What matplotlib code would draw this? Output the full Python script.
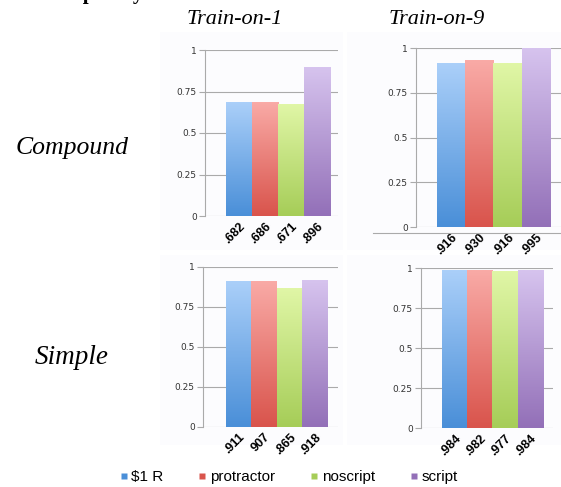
import numpy as np
import matplotlib.pyplot as plt
from matplotlib.lines import Line2D
from matplotlib.colors import LinearSegmentedColormap
from matplotlib.transforms import ScaledTranslation

# datos
metodos = ['$1 R', 'protractor', 'noscript', 'script']
compuesto_1 = [0.682, 0.686, 0.671, 0.896]
compuesto_9 = [0.916, 0.930, 0.916, 0.995]
simple_1 = [0.911, 0.907, 0.865, 0.918]
simple_9 = [0.984, 0.982, 0.977, 0.984]
etiquetas_c1 = ['.682', '.686', '.671', '.896']
etiquetas_c9 = ['.916', '.930', '.916', '.995']
etiquetas_s1 = ['.911', '907', '.865', '.918']
etiquetas_s9 = ['.984', '.982', '.977', '.984']

# colores (arriba claro, abajo oscuro)
claros = ['#aacff9', '#f9aaa6', '#e0f6a6', '#d6c3ee']
oscuros = ['#4a8fd8', '#d9544c', '#a6cd58', '#9370b8']

W, H = 561, 487
fig = plt.figure(figsize=(W / 100, H / 100), dpi=100)

def caja(izq, der, arriba, abajo):
    return [izq / W, 1 - abajo / H, (der - izq) / W, (abajo - arriba) / H]

# fondos tenues de las imagenes pegadas
for (x0, y0, x1, y1) in [(160, 32, 343, 250), (347, 32, 561, 250),
                         (160, 255, 343, 445), (347, 255, 561, 445)]:
    fig.patches.append(plt.Rectangle((x0 / W, 1 - y1 / H), (x1 - x0) / W, (y1 - y0) / H,
                                     transform=fig.transFigure, facecolor='#fcfcfe',
                                     edgecolor='none', zorder=-5))

def grafica(pos, valores, etiquetas, xlim):
    ax = fig.add_axes(pos)
    ax.set_facecolor('none')
    for i, v in enumerate(valores):
        cmap = LinearSegmentedColormap.from_list('g', [oscuros[i], claros[i]])
        grad = np.linspace(0, 1, 100).reshape(-1, 1)
        ax.imshow(grad, cmap=cmap, origin='lower', aspect='auto',
                  extent=(i - 0.5, i + 0.5, 0, v), zorder=3)
    ax.set_xlim(*xlim)
    ax.set_ylim(0, 1)
    ax.set_yticks([0, 0.25, 0.5, 0.75, 1])
    ax.set_yticklabels(['0', '0.25', '0.5', '0.75', '1'], fontsize=6.5, color='#333333')
    ax.set_xticks(range(4))
    ax.set_xticklabels(etiquetas, rotation=45, ha='right', va='top', rotation_mode='anchor',
                       fontsize=9, fontweight='bold', fontfamily='Liberation Sans')
    # corro las etiquetas un poco a la derecha como en el original
    desplaza = ScaledTranslation(7 / 72, 0, fig.dpi_scale_trans)
    for et in ax.get_xticklabels():
        et.set_transform(et.get_transform() + desplaza)
    ax.tick_params(axis='x', length=0, pad=3)
    ax.tick_params(axis='y', length=4, color='#aaaaaa', pad=2)
    for lado in ['top', 'right', 'bottom']:
        ax.spines[lado].set_visible(False)
    ax.spines['left'].set_color('#aaaaaa')
    ax.spines['left'].set_linewidth(0.8)
    ax.grid(axis='y', color='#aaaaaa', linewidth=0.8)
    ax.set_axisbelow(True)
    return ax

grafica(caja(205, 338, 50, 216), compuesto_1, etiquetas_c1, (-1.3, 3.8))
grafica(caja(416, 561, 48, 227), compuesto_9, etiquetas_c9, (-1.25, 3.9))
grafica(caja(203, 338, 267, 427), simple_1, etiquetas_s1, (-1.4, 3.9))
grafica(caja(421, 553, 268, 428), simple_9, etiquetas_s9, (-1.33, 3.9))

# linea suelta bajo la grafica de arriba a la derecha
fig.add_artist(Line2D([373 / W, 1], [1 - 233 / H, 1 - 233 / H], color='#aaaaaa', linewidth=0.8))

# titulos
serif = 'Liberation Serif'
fig.text(235 / W, 1 - 20 / H, 'Train-on-1', ha='center', va='center', fontsize=16,
         style='italic', family=serif)
fig.text(437 / W, 1 - 20 / H, 'Train-on-9', ha='center', va='center', fontsize=16,
         style='italic', family=serif)
fig.text(72 / W, 1 - 148 / H, 'Compound', ha='center', va='center', fontsize=18.5,
         style='italic', family=serif)
fig.text(72 / W, 1 - 358 / H, 'Simple', ha='center', va='center', fontsize=19.5,
         style='italic', family=serif)
# titulo cortado arriba (en el original solo asoman los trazos bajos)
fig.text(40 / W, 1 + 1 / H, 'Complexity', ha='left', va='baseline', fontsize=15,
         fontweight='bold', family=serif)

# leyenda
manejadores = [Line2D([], [], marker='s', linestyle='none', markersize=5,
                      markerfacecolor=c, markeredgecolor='none') for c in oscuros]
fig.legend(manejadores, metodos, loc='center', bbox_to_anchor=(288 / W, 1 - 477 / H),
           ncol=4, frameon=False, prop={'family': 'Liberation Sans', 'size': 11},
           handletextpad=0.15, columnspacing=2.2, handlelength=0.7)

fig.savefig('out.png', dpi=100)
